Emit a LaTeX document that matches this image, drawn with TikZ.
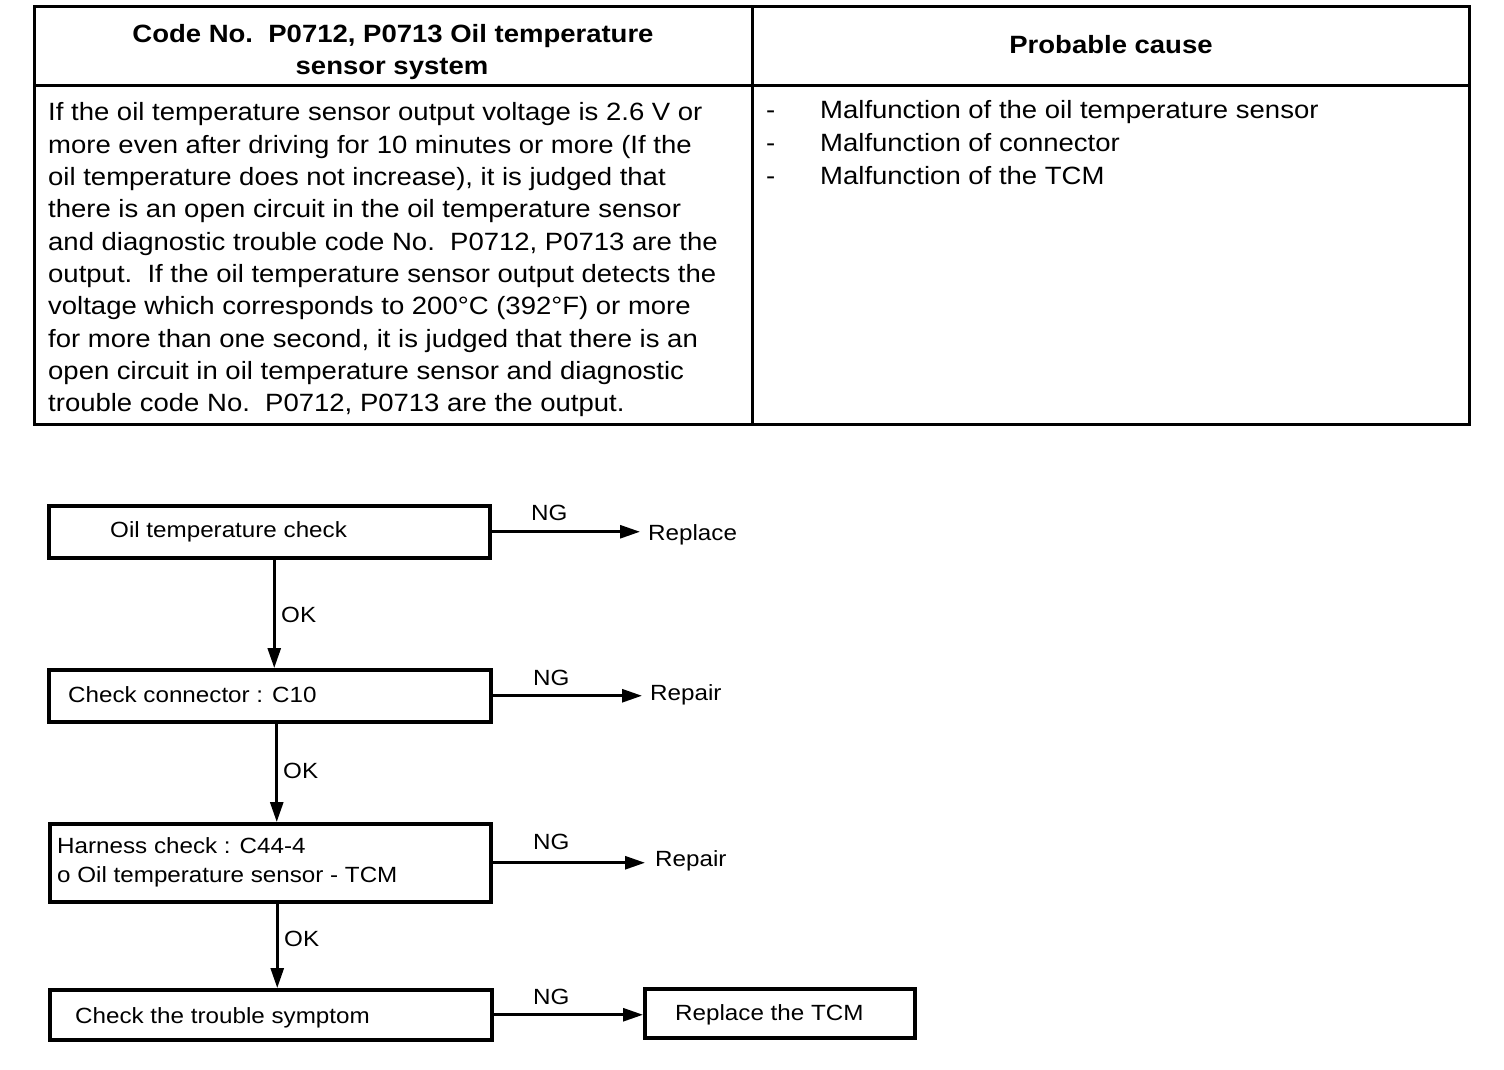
\documentclass[tikz,border=0pt]{standalone}
\usepackage{fontspec}
\setmainfont[FakeStretch=1.1]{Liberation Sans}
\usetikzlibrary{arrows.meta}
\begin{document}
\begin{tikzpicture}[x=1pt,y=-1pt,
  txt/.style={inner sep=0,anchor=base west,font=\fontsize{25}{32}\selectfont},
  htxt/.style={inner sep=0,anchor=base,font=\fontsize{25}{30}\selectfont\bfseries},
  ftxt/.style={inner sep=0,anchor=base west,font=\fontsize{22}{28}\selectfont},
  box/.style={draw,line width=3.5,inner sep=0,anchor=north west},
  arr/.style={line width=2.8,-{Triangle[length=20pt,width=13pt]}},
  tab/.style={line width=3},
]
\useasboundingbox (0,0) rectangle (1504,1070);
% ---------- table ----------
\draw[tab] (34,7) rectangle (1469,424);
\draw[tab] (752,7) -- (752,424);
\draw[tab] (34,86) -- (1469,86);
\node[htxt] (h1) at (393,43) {Code No.\ \ P0712, P0713 Oil temperature};
\node[htxt] (h2) at (392,75) {sensor system};
\node[htxt] (h3) at (1111,54) {Probable cause};
\foreach \t [count=\i] in {
  {If the oil temperature sensor output voltage is 2.6 V or},
  {more even after driving for 10 minutes or more (If the},
  {oil temperature does not increase), it is judged that},
  {there is an open circuit in the oil temperature sensor},
  {and diagnostic trouble code No.\ \ P0712, P0713 are the},
  {output.\ \ If the oil temperature sensor output detects the},
  {voltage which corresponds to 200°C (392°F) or more},
  {for more than one second, it is judged that there is an},
  {open circuit in oil temperature sensor and diagnostic},
  {trouble code No.\ \ P0712, P0713 are the output.}}
  \node[txt] (l\i) at (48,{121+(\i-1)*32.3}) {\t};
\foreach \t [count=\i] in {
  {Malfunction of the oil temperature sensor},
  {Malfunction of connector},
  {Malfunction of the TCM}}
  {\node[txt] (c\i) at (820,{119+(\i-1)*32.5}) {\t};
   \node[txt] (d\i) at (766,{119+(\i-1)*32.5}) {-};}
% ---------- flowchart ----------
\node[box,minimum width=441,minimum height=52] (b1) at (47,504) {};
\node[box,minimum width=442,minimum height=52] (b2) at (47,668) {};
\node[box,minimum width=441,minimum height=78] (b3) at (48,822) {};
\node[box,minimum width=442,minimum height=50] (b4) at (48,988) {};
\node[box,minimum width=270,minimum height=49] (b5) at (643,987) {};
\node[ftxt] (t1) at (110,537) {Oil temperature check};
\node[ftxt] (t2) at (68,702) {Check connector : C10};
\node[ftxt] (t3a) at (57,853) {Harness check : C44-4};
\node[ftxt] (t3b) at (57,882) {o Oil temperature sensor - TCM};
\node[ftxt] (t4) at (75,1023) {Check the trouble symptom};
\node[ftxt] (t5) at (675,1020) {Replace the TCM};
\node[ftxt] (r1) at (648,540) {Replace};
\node[ftxt] (r2) at (650,700) {Repair};
\node[ftxt] (r3) at (655,866) {Repair};
% NG arrows
\draw[arr,shorten >=8] (b1.east) -- (b1.east -| r1.west);
\draw[arr,shorten >=8] (b2.east) -- (b2.east -| r2.west);
\draw[arr,shorten >=10] (b3.east) -- (b3.east -| r3.west);
\draw[arr] (b4.east) -- (b4.east -| b5.west);
\node[ftxt] (n1) at (531,520) {NG};
\node[ftxt] (n2) at (533,685) {NG};
\node[ftxt] (n3) at (533,849) {NG};
\node[ftxt] (n4) at (533,1004) {NG};
% OK arrows
\draw[arr] ([xshift=5]b1.south) -- ([xshift=5]b1.south |- b2.north);
\draw[arr] ([xshift=7]b2.south) -- ([xshift=7]b2.south |- b3.north);
\draw[arr] ([xshift=7]b3.south) -- ([xshift=7]b3.south |- b4.north);
\node[ftxt] (k1) at (281,622) {OK};
\node[ftxt] (k2) at (283,778) {OK};
\node[ftxt] (k3) at (284,946) {OK};
\end{tikzpicture}
\end{document}
